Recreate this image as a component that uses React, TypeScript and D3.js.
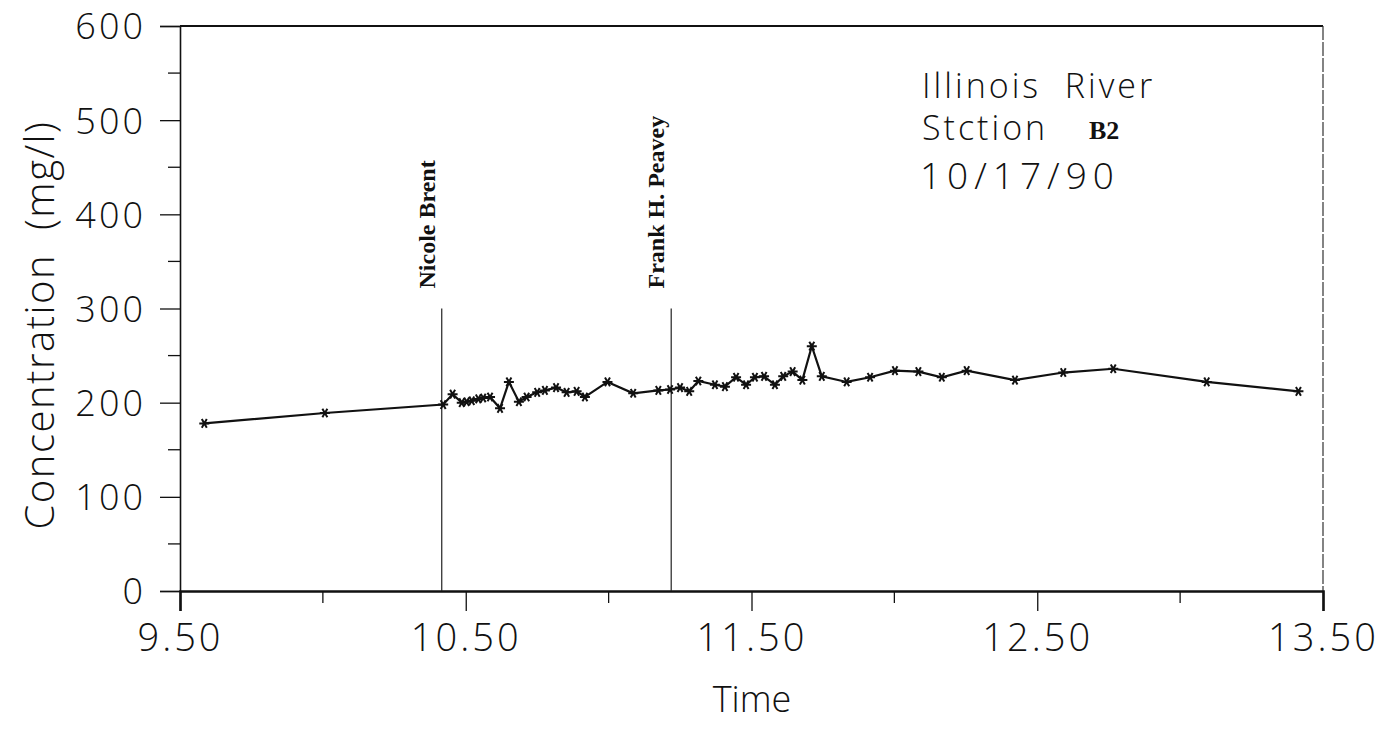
import React, { useEffect, useRef } from "react";
import * as d3 from "d3";

// time of sample (hours) and concentration (mg/l)
const times = [
  9.585, 10.007, 10.421, 10.454, 10.486, 10.503, 10.521, 10.544, 10.561, 10.585,
  10.62, 10.651, 10.686, 10.713, 10.75, 10.777, 10.816, 10.853, 10.888, 10.917,
  10.996, 11.086, 11.174, 11.215, 11.25, 11.282, 11.314, 11.372, 11.407, 11.446,
  11.481, 11.512, 11.544, 11.582, 11.611, 11.644, 11.678, 11.711, 11.746, 11.833,
  11.915, 12.002, 12.084, 12.166, 12.253, 12.422, 12.591, 12.766, 13.093, 13.414,
];
const concentrations = [
  178, 189, 198, 209, 200, 201, 202, 204, 205, 206,
  194, 222, 201, 206, 211, 213, 216, 211, 212, 206,
  222, 210, 213, 214, 216, 212, 223, 219, 217, 227,
  219, 227, 228, 219, 228, 233, 224, 260, 228, 222,
  227, 234, 233, 227, 234, 224, 232, 236, 222, 212,
];

const xMajorTicks = [9.5, 10.5, 11.5, 12.5, 13.5];
const xMinorTicks = [10, 11, 12, 13];
const yMajorTicks = [0, 100, 200, 300, 400, 500, 600];
const yMinorTicks = [50, 150, 250, 350, 450, 550];

const vessels = ["Nicole Brent", "Frank H. Peavey"];
const vesselTimes = [10.416, 11.219];
const vesselTop = 300;

const titleLines = ["Illinois  River", "Stction", "10/17/90"];
const stationId = "B2";

const plotFont = "'Open Sans', 'DejaVu Sans', sans-serif";
const serifFont = "'Liberation Serif', 'Times New Roman', serif";

export default function App() {
  const svgRef = useRef(null);

  useEffect(() => {
    const svg = d3.select(svgRef.current);
    svg.selectAll("*").remove();

    const x = d3.scaleLinear().domain([9.5, 13.5]).range([180, 1323]);
    const y = d3.scaleLinear().domain([0, 600]).range([591, 26]);

    // frame
    svg
      .append("line")
      .attr("x1", x(9.5))
      .attr("x2", x(13.5))
      .attr("y1", y(600))
      .attr("y2", y(600))
      .attr("stroke", "#111")
      .attr("stroke-width", 1.8);
    svg
      .append("line")
      .attr("x1", x(13.5))
      .attr("x2", x(13.5))
      .attr("y1", y(600))
      .attr("y2", y(0))
      .attr("stroke", "#333")
      .attr("stroke-width", 1.2)
      .attr("stroke-dasharray", "14 2");

    // x axis
    const gx = svg.append("g").attr("transform", `translate(0,${y(0)})`);
    gx.call(
      d3
        .axisBottom(x)
        .tickValues(xMajorTicks)
        .tickSize(20)
        .tickPadding(13)
        .tickFormat(d3.format(".2f"))
    );
    gx.select(".domain").attr("stroke", "#111").attr("stroke-width", 2.6);
    gx.selectAll(".tick line").attr("stroke", "#111").attr("stroke-width", 1.3);
    gx.selectAll(".tick text")
      .attr("font-family", plotFont)
      .attr("font-weight", 300)
      .attr("font-size", 38)
      .attr("letter-spacing", 3)
      .attr("fill", "#111");
    gx.selectAll(".minor")
      .data(xMinorTicks)
      .enter()
      .append("line")
      .attr("x1", (d) => x(d))
      .attr("x2", (d) => x(d))
      .attr("y1", 0)
      .attr("y2", 12)
      .attr("stroke", "#111")
      .attr("stroke-width", 1.3);

    // y axis
    const gy = svg.append("g").attr("transform", `translate(${x(9.5)},0)`);
    gy.call(
      d3
        .axisLeft(y)
        .tickValues(yMajorTicks)
        .tickSize(20)
        .tickPadding(14)
        .tickFormat(d3.format("d"))
    );
    gy.select(".domain").attr("stroke", "#111").attr("stroke-width", 1.6);
    gy.selectAll(".tick line").attr("stroke", "#111").attr("stroke-width", 1.3);
    gy.selectAll(".tick text")
      .attr("font-family", plotFont)
      .attr("font-weight", 300)
      .attr("font-size", 36)
      .attr("letter-spacing", 3)
      .attr("dy", "0.36em")
      .attr("fill", "#111");
    gy.selectAll(".minor")
      .data(yMinorTicks)
      .enter()
      .append("line")
      .attr("x1", 0)
      .attr("x2", -12)
      .attr("y1", (d) => y(d))
      .attr("y2", (d) => y(d))
      .attr("stroke", "#111")
      .attr("stroke-width", 1.3);

    // axis titles
    svg
      .append("text")
      .attr("transform", `translate(54,325) rotate(-90)`)
      .attr("text-anchor", "middle")
      .attr("font-family", plotFont)
      .attr("font-weight", 300)
      .attr("font-size", 40)
      .attr("letter-spacing", 1.5)
      .attr("fill", "#111")
      .attr("xml:space", "preserve")
      .text("Concentration  (mg/l)");
    svg
      .append("text")
      .attr("x", 752)
      .attr("y", 712)
      .attr("text-anchor", "middle")
      .attr("font-family", plotFont)
      .attr("font-weight", 300)
      .attr("font-size", 36)
      .attr("fill", "#111")
      .text("Time");

    // vessel passage markers
    vessels.forEach((name, i) => {
      const vx = x(vesselTimes[i]);
      svg
        .append("line")
        .attr("x1", vx)
        .attr("x2", vx)
        .attr("y1", y(vesselTop))
        .attr("y2", y(0))
        .attr("stroke", "#222")
        .attr("stroke-width", 1.2);
      svg
        .append("text")
        .attr("transform", `translate(${vx - 7},${y(vesselTop) - 20}) rotate(-90)`)
        .attr("text-anchor", "start")
        .attr("font-family", serifFont)
        .attr("font-weight", "bold")
        .attr("font-size", 24)
        .attr("fill", "#111")
        .text(name);
    });

    // data line
    const pts = times.map((t, i) => [t, concentrations[i]]);
    svg
      .append("path")
      .datum(pts)
      .attr("fill", "none")
      .attr("stroke", "#111")
      .attr("stroke-width", 2.2)
      .attr("d", d3.line().x((d) => x(d[0])).y((d) => y(d[1])));

    const star = d3.symbol().type(d3.symbolAsterisk).size(70);
    svg
      .selectAll(".pt")
      .data(pts)
      .enter()
      .append("path")
      .attr("transform", (d) => `translate(${x(d[0])},${y(d[1])}) rotate(30)`)
      .attr("d", star())
      .attr("fill", "none")
      .attr("stroke", "#111")
      .attr("stroke-width", 2);

    // station annotation
    const ann = svg
      .append("g")
      .attr("font-family", plotFont)
      .attr("font-weight", 300)
      .attr("fill", "#111");
    ann
      .append("text")
      .attr("x", 922)
      .attr("y", 98)
      .attr("font-size", 34)
      .attr("letter-spacing", 3)
      .attr("xml:space", "preserve")
      .text(titleLines[0]);
    ann
      .append("text")
      .attr("x", 922)
      .attr("y", 140)
      .attr("font-size", 34)
      .attr("letter-spacing", 3)
      .text(titleLines[1]);
    ann
      .append("text")
      .attr("x", 1089)
      .attr("y", 139)
      .attr("font-family", serifFont)
      .attr("font-weight", "bold")
      .attr("font-size", 26)
      .text(stationId);
    ann
      .append("text")
      .attr("x", 920)
      .attr("y", 189)
      .attr("font-size", 37)
      .attr("letter-spacing", 6)
      .text(titleLines[2]);
  }, []);

  return (
    <svg
      ref={svgRef}
      width={1390}
      height={738}
      style={{ position: "absolute", left: 0, top: 0, background: "#fff" }}
    />
  );
}
